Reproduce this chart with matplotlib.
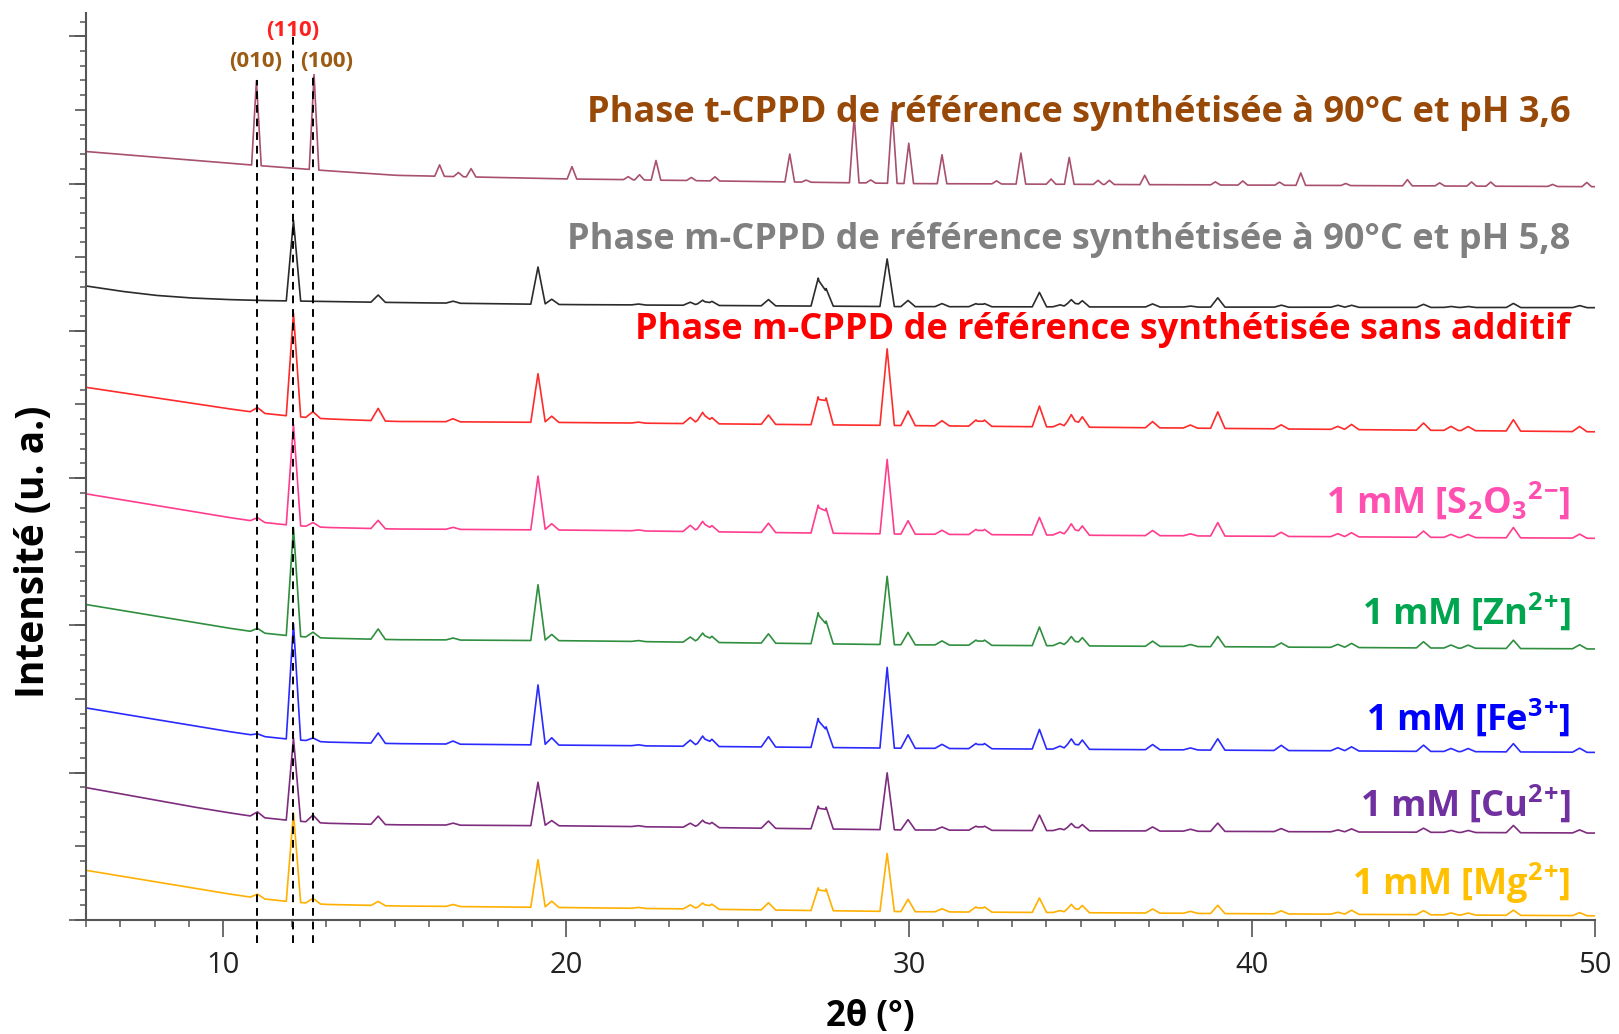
import numpy as np
import matplotlib
matplotlib.use("Agg")
import matplotlib.pyplot as plt
from matplotlib.ticker import MultipleLocator, NullFormatter

plt.rcParams['font.family'] = ['Open Sans', 'DejaVu Sans']
plt.rcParams['mathtext.fontset'] = 'custom'
plt.rcParams['mathtext.rm'] = 'Open Sans:bold'
plt.rcParams['mathtext.it'] = 'Open Sans:bold'
plt.rcParams['mathtext.bf'] = 'Open Sans:bold'

# background anchor points (2theta) shared by all patterns
bg_x = [6, 7, 8, 9, 10, 11, 12, 13, 15, 20, 30, 50]

# t-CPPD reference (pH 3,6)
pos_t = [10.97, 12.65, 16.31, 16.86, 17.23, 20.17, 21.81, 22.14, 22.62, 23.65, 24.34,
         26.52, 27.0, 28.40, 28.88, 29.51, 29.99, 30.96, 32.55, 33.26, 34.14, 34.67,
         35.51, 35.84, 36.87, 38.93, 39.73, 40.80, 41.42, 42.73, 44.53, 45.47, 46.40,
         46.96, 48.76, 49.76]
int_t = [82, 92, 11, 4, 8, 12, 3, 5, 19, 3, 4,
         27, 2, 64, 3, 70, 39, 28, 3, 30, 5, 26,
         4, 4, 9, 3, 4, 3, 12, 2, 6, 3, 4,
         4, 2, 4]
bg_t = [743, 740.3, 737.6, 734.9, 732.2, 729.5, 727, 724.5, 720, 716.5, 712, 709]

# m-CPPD reflections, common to all the other patterns
pos_m = [11.0, 12.05, 12.62, 14.52, 16.7, 19.18, 19.58, 22.1, 23.62, 23.98, 24.25,
         25.9, 27.35, 27.58, 29.36, 29.97, 30.96, 31.95, 32.2, 33.8, 34.4, 34.73,
         35.05, 37.1, 38.2, 39.0, 40.85, 42.5, 42.9, 45.0, 45.8, 46.3, 47.62, 49.55]

int_ph58 = [0, 78, 0, 7, 2, 36, 5, 1, 3, 5, 4, 6, 27, 17, 46, 6, 3, 3, 3, 14, 2, 7, 6, 3, 1, 9, 2, 2, 2, 3, 1, 1, 4, 2]
int_ref = [5, 100, 6, 12, 3, 47, 6, 1, 6, 11, 6, 9, 27, 26, 74, 14, 5, 6, 6, 20, 3, 12, 10, 6, 3, 16, 4, 3, 5, 7, 4, 4, 11, 5]
int_s2o3 = [4, 98, 4, 8, 2, 52, 6, 1, 6, 10, 6, 9, 27, 24, 72, 13, 4, 5, 5, 17, 3, 11, 9, 5, 2, 13, 4, 3, 4, 6, 3, 3, 10, 4]
int_zn = [4, 105, 5, 10, 2, 54, 6, 1, 5, 9, 6, 9, 30, 22, 66, 12, 4, 5, 5, 18, 3, 9, 8, 5, 2, 10, 4, 3, 4, 6, 3, 3, 8, 4]
int_fe = [2, 112, 3, 10, 3, 58, 7, 1, 6, 10, 7, 10, 28, 20, 78, 13, 4, 5, 5, 19, 3, 10, 9, 5, 2, 11, 5, 3, 4, 6, 3, 3, 8, 4]
int_cu = [5, 80, 7, 8, 2, 42, 5, 1, 4, 7, 5, 7, 22, 21, 55, 10, 3, 4, 4, 15, 2, 7, 6, 4, 2, 8, 3, 2, 3, 4, 2, 2, 7, 3]
int_mg = [4, 86, 5, 4, 2, 46, 6, 1, 4, 6, 5, 7, 22, 21, 56, 12, 3, 5, 5, 14, 2, 8, 7, 4, 2, 8, 3, 2, 4, 4, 2, 2, 5, 3]

bg_ph58 = [613, 608, 604, 601.5, 600, 599, 598.5, 598, 597, 595, 593, 592]
bg_ref = [515, 510, 505, 500, 495, 490.5, 487, 484.5, 482, 481, 478, 472]
bg_s2o3 = [412, 406.5, 401, 395.5, 390, 385, 381.5, 379.5, 378, 377, 373, 369]
bg_zn = [305, 299.5, 294, 288.5, 283, 278, 274.5, 272.5, 271, 270, 266, 262]
bg_fe = [205, 199.5, 194, 188.5, 183, 178, 174.5, 172, 170.5, 169, 166, 162]
bg_cu = [128, 122, 116, 110, 104.5, 99.5, 96, 93.5, 92, 91, 87, 84]
bg_mg = [48, 42.5, 37, 31.5, 26, 21, 17.5, 15, 13.5, 12, 8, 4]

labels = ['Phase t-CPPD de référence synthétisée à 90°C et pH 3,6',
          'Phase m-CPPD de référence synthétisée à 90°C et pH 5,8',
          'Phase m-CPPD de référence synthétisée sans additif',
          '1 mM [S$_2$O$_3$$^{2}$$^{-}$]',
          '1 mM [Zn$^{2}$$^{+}$]',
          '1 mM [Fe$^{3}$$^{+}$]',
          '1 mM [Cu$^{2}$$^{+}$]',
          '1 mM [Mg$^{2}$$^{+}$]']
label_y = [780, 657, 570, 405, 298, 195, 112, 35]

hkl_pos = [11.0, 12.04, 12.62]
hkl_text = ['(010)', '(110)', '(100)']


def pattern(x, pos, heights, bg, w):
    y = np.interp(x, bg_x, bg)
    for p, h in zip(pos, heights):
        y = y + h * np.clip(1 - np.abs(x - p) / w, 0, None)
    return y


xg = np.linspace(6, 50, 8801)

fig = plt.figure(figsize=(16.19, 10.34), dpi=100)
ax = fig.add_axes([0.0531, 0.1103, 0.9321, 0.8772])

series = [
    (pos_t, int_t, bg_t, 0.14, '#a8506c', '#984807'),
    (pos_m, int_ph58, bg_ph58, 0.21, '#2b2b2b', '#808080'),
    (pos_m, int_ref, bg_ref, 0.21, '#ff2a2a', '#ff0000'),
    (pos_m, int_s2o3, bg_s2o3, 0.21, '#ff3d8e', '#ff4fb0'),
    (pos_m, int_zn, bg_zn, 0.21, '#2f8f3f', '#00a550'),
    (pos_m, int_fe, bg_fe, 0.21, '#2a2aff', '#0000ff'),
    (pos_m, int_cu, bg_cu, 0.21, '#7e2c7e', '#7030a0'),
    (pos_m, int_mg, bg_mg, 0.21, '#ffb000', '#ffc000'),
]

for (pos, heights, bg, w, lc, tc), lab, ly in zip(series, labels, label_y):
    ax.plot(xg, pattern(xg, pos, heights, bg, w), color=lc, lw=1.2, zorder=2)
    ax.text(49.28, ly, lab, color=tc, fontsize=26, fontweight='bold',
            ha='right', va='center', zorder=4)

# dashed markers of the t-CPPD / m-CPPD reflections
ax.vlines(hkl_pos, -22, [812, 855, 819], colors='black', linestyles=(0, (4, 3)),
          lw=1.4, clip_on=False, zorder=3)
ax.text(10.96, 830, hkl_text[0], color='#9c5b12', fontsize=16, fontweight='bold', ha='center', va='center')
ax.text(12.04, 860, hkl_text[1], color='#ff2020', fontsize=16, fontweight='bold', ha='center', va='center')
ax.text(13.03, 830, hkl_text[2], color='#9c5b12', fontsize=16, fontweight='bold', ha='center', va='center')

ax.set_xlim(6, 50)
ax.set_ylim(0, 877)
ax.spines['top'].set_visible(False)
ax.spines['right'].set_visible(False)
for s in ['left', 'bottom']:
    ax.spines[s].set_color('#555555')
    ax.spines[s].set_linewidth(1.5)

ax.xaxis.set_major_locator(MultipleLocator(10))
ax.xaxis.set_minor_locator(MultipleLocator(1))
ax.yaxis.set_major_locator(MultipleLocator(71.2))
ax.yaxis.set_minor_locator(MultipleLocator(14.24))
ax.yaxis.set_major_formatter(NullFormatter())
ax.tick_params(axis='x', which='major', direction='out', length=12, width=1.2,
               color='#555555', labelsize=21, pad=10, labelcolor='#222222')
ax.tick_params(axis='x', which='minor', direction='out', length=5, width=1.1, color='#555555')
ax.tick_params(axis='y', which='major', direction='out', length=8, width=1.2, color='#555555')
ax.tick_params(axis='y', which='minor', direction='out', length=4.5, width=1.1, color='#555555')

# longest y ticks
ax2 = ax.secondary_yaxis('left')
ax2.spines['left'].set_visible(False)
ax2.yaxis.set_major_locator(MultipleLocator(142.4))
ax2.yaxis.set_major_formatter(NullFormatter())
ax2.tick_params(axis='y', which='major', direction='out', length=12, width=1.2, color='#555555')

fig.text(870 / 1619, 1 - 1017 / 1034, '2θ (°)', fontsize=25, fontweight='bold',
         ha='center', va='center')
fig.text(34 / 1619, 1 - 552 / 1034, 'Intensité (u. a.)', fontsize=28, fontweight='bold',
         ha='center', va='center', rotation=90)

fig.savefig('out.png', dpi=100)
